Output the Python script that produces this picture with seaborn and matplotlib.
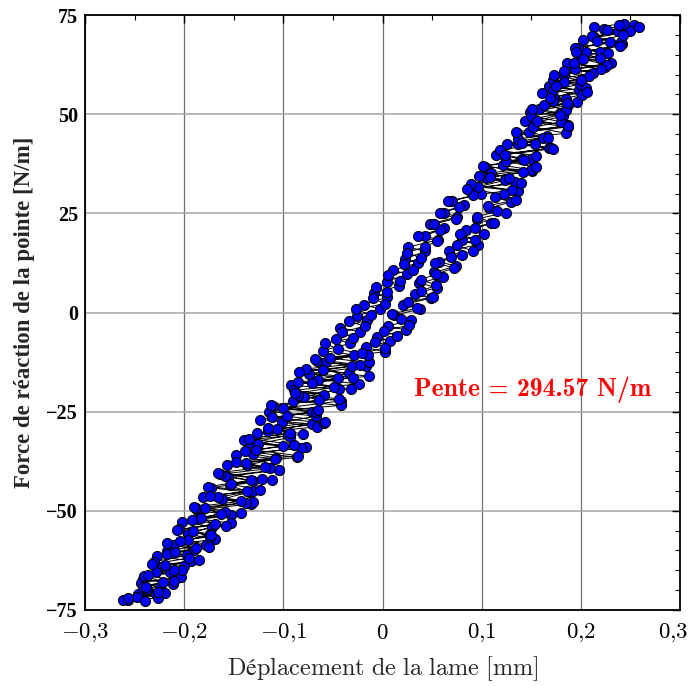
import numpy as np
import pandas as pd
import seaborn as sns
import matplotlib
matplotlib.use("Agg")
import matplotlib.pyplot as plt
import matplotlib.transforms as mtransforms
from matplotlib.ticker import MultipleLocator, FuncFormatter

# ---- data ----
pass1_x = [-0.257, -0.228, -0.238, -0.211, -0.242, -0.214, -0.226, -0.193, -0.227, -0.190,
           -0.210, -0.169, -0.196, -0.172, -0.202, -0.153, -0.187, -0.133, -0.162, -0.135,
           -0.173, -0.131, -0.156, -0.104, -0.157, -0.107, -0.131, -0.077, -0.135, -0.095,
           -0.115, -0.071, -0.124, -0.071, -0.100, -0.042, -0.079, -0.044, -0.092, -0.045,
           -0.074, -0.017, -0.057, -0.029, -0.060, -0.033, -0.047, -0.023, -0.043, -0.016,
           -0.026, -0.003, -0.019, 0.004, -0.009, 0.017, 0.004, 0.025, 0.011, 0.036,
           0.023, 0.043, 0.026, 0.056, 0.043, 0.062, 0.048, 0.075, 0.062, 0.082,
           0.070, 0.099, 0.087, 0.134, 0.104, 0.151, 0.103, 0.141, 0.122, 0.168,
           0.126, 0.166, 0.148, 0.187, 0.144, 0.179, 0.158, 0.196, 0.173, 0.198,
           0.168, 0.201, 0.183, 0.224, 0.186, 0.220, 0.205, 0.241, 0.202, 0.241,
           0.223, 0.254]
pass1_f = [-72.5, -71.0, -69.6, -68.4, -67.2, -65.5, -64.3, -62.6, -61.5, -59.8,
           -58.6, -57.1, -55.9, -54.0, -52.8, -51.1, -49.9, -48.2, -47.1, -45.3,
           -44.2, -42.5, -41.4, -39.6, -38.5, -36.7, -35.6, -33.9, -32.8, -31.0,
           -29.9, -28.1, -27.0, -25.2, -24.1, -22.3, -21.2, -19.4, -18.3, -16.5,
           -15.4, -13.6, -12.5, -10.7, -9.6, -7.8, -6.7, -4.9, -3.8, -2.0,
           -0.9, 0.9, 2.0, 3.8, 4.9, 6.7, 7.8, 9.6, 10.7, 12.5,
           13.6, 15.4, 16.5, 18.3, 19.4, 21.2, 22.3, 24.1, 25.2, 27.0,
           28.1, 29.9, 31.0, 32.8, 33.9, 35.7, 36.8, 38.6, 39.7, 41.5,
           42.6, 44.4, 45.5, 47.3, 48.4, 50.2, 51.3, 53.1, 54.2, 56.0,
           57.1, 58.9, 60.0, 61.8, 62.9, 64.7, 65.8, 67.6, 68.7, 70.5,
           71.6, 72.4]

pass2_x = [0.243, 0.213, 0.237, 0.213, 0.240, 0.197, 0.219, 0.198, 0.230, 0.194,
           0.212, 0.172, 0.199, 0.172, 0.201, 0.172, 0.187, 0.149, 0.182, 0.154,
           0.187, 0.136, 0.162, 0.137, 0.170, 0.114, 0.150, 0.121, 0.150, 0.097,
           0.123, 0.096, 0.137, 0.113, 0.130, 0.107, 0.125, 0.095, 0.109, 0.084,
           0.102, 0.080, 0.096, 0.067, 0.080, 0.057, 0.074, 0.052, 0.061, 0.037,
           0.055, 0.033, 0.049, 0.021, 0.038, 0.012, 0.029, 0.006, 0.024, -0.006,
           0.008, -0.017, 0.002, -0.053, -0.014, -0.077, -0.034, -0.065, -0.024, -0.089,
           -0.059, -0.090, -0.042, -0.114, -0.067, -0.101, -0.066, -0.127, -0.093, -0.126,
           -0.082, -0.148, -0.108, -0.137, -0.104, -0.159, -0.133, -0.176, -0.131, -0.166,
           -0.131, -0.188, -0.159, -0.186, -0.153, -0.205, -0.174, -0.196, -0.178, -0.217,
           -0.197, -0.230, -0.200, -0.228, -0.203, -0.244, -0.224, -0.247, -0.226, -0.262]
pass2_f = [72.8, 71.9, 70.9, 69.4, 68.3, 66.8, 65.7, 64.1, 63.0, 61.4,
           60.3, 58.7, 57.6, 56.0, 54.9, 53.3, 52.2, 50.6, 49.5, 47.9,
           46.8, 45.2, 44.1, 42.5, 41.4, 39.8, 38.7, 37.1, 36.0, 34.4,
           33.3, 31.7, 30.6, 29.0, 27.9, 26.3, 25.2, 23.6, 22.5, 20.9,
           19.8, 18.2, 17.1, 15.5, 14.4, 12.8, 11.7, 10.1, 9.0, 7.4,
           6.3, 4.7, 3.6, 2.0, 0.9, -0.7, -1.8, -3.4, -4.5, -6.1,
           -7.2, -8.8, -9.9, -11.5, -12.6, -14.2, -15.3, -16.9, -18.0, -19.6,
           -20.7, -22.3, -23.4, -25.0, -26.1, -27.7, -28.8, -30.4, -31.5, -33.1,
           -34.2, -35.8, -36.9, -38.5, -39.6, -41.2, -42.3, -43.9, -45.0, -46.6,
           -47.7, -49.3, -50.4, -52.0, -53.1, -54.7, -55.8, -57.4, -58.5, -60.1,
           -61.2, -62.8, -63.9, -65.5, -66.6, -68.2, -69.3, -70.9, -72.0, -72.6]

pass3_x = [-0.248, -0.219, -0.242, -0.221, -0.241, -0.202, -0.219, -0.185, -0.217, -0.188,
           -0.217, -0.174, -0.191, -0.158, -0.192, -0.163, -0.179, -0.138, -0.181, -0.137,
           -0.154, -0.111, -0.164, -0.113, -0.138, -0.086, -0.139, -0.100, -0.140, -0.080,
           -0.106, -0.059, -0.111, -0.067, -0.110, -0.064, -0.085, -0.032, -0.071, -0.030,
           -0.084, -0.031, -0.066, -0.015, -0.045, -0.058, -0.030, -0.041, -0.018, -0.034,
           -0.012, -0.027, 0.002, -0.010, 0.005, -0.007, 0.018, 0.006, 0.031, 0.022,
           0.039, 0.025, 0.043, 0.055, 0.036, 0.058, 0.052, 0.074, 0.058, 0.077,
           0.066, 0.091, 0.131, 0.089, 0.128, 0.109, 0.155, 0.125, 0.155, 0.118,
           0.154, 0.137, 0.185, 0.152, 0.180, 0.150, 0.185, 0.163, 0.185, 0.161,
           0.205, 0.183, 0.208, 0.183, 0.226, 0.202, 0.227, 0.194, 0.229, 0.211,
           0.250, 0.238]
pass3_f = [-71.8, -70.6, -69.1, -67.9, -66.4, -65.0, -63.6, -62.3, -60.8, -59.4,
           -58.0, -56.5, -55.1, -53.7, -52.2, -50.8, -49.4, -47.9, -46.5, -45.1,
           -43.6, -42.2, -40.8, -39.3, -37.9, -36.5, -35.0, -33.6, -32.2, -30.7,
           -29.3, -27.9, -26.4, -25.0, -23.6, -22.1, -20.7, -19.3, -17.8, -16.4,
           -15.0, -13.5, -12.1, -10.7, -9.2, -7.8, -6.4, -4.9, -3.5, -2.1,
           -0.6, 0.8, 2.2, 3.7, 5.1, 6.5, 8.0, 9.4, 10.8, 12.3,
           13.7, 15.1, 16.6, 18.0, 19.4, 20.9, 22.3, 23.7, 25.2, 26.6,
           28.0, 29.5, 30.9, 32.3, 33.8, 35.2, 36.6, 38.1, 39.5, 40.9,
           42.4, 43.8, 45.2, 46.7, 48.1, 49.5, 51.0, 52.4, 53.8, 55.3,
           56.7, 58.1, 59.6, 61.0, 62.4, 63.9, 65.3, 66.7, 68.2, 69.6,
           71.0, 72.5]

pass4_x = [0.259, 0.226, 0.242, 0.216, 0.239, 0.195, 0.219, 0.193, 0.220, 0.173,
           0.200, 0.175, 0.206, 0.169, 0.186, 0.151, 0.179, 0.156, 0.187, 0.135,
           0.167, 0.141, 0.172, 0.123, 0.143, 0.101, 0.142, 0.108, 0.140, 0.085,
           0.122, 0.135, 0.106, 0.115, 0.095, 0.112, 0.093, 0.078, 0.093, 0.075,
           0.091, 0.069, 0.053, 0.072, 0.054, 0.039, 0.054, 0.039, 0.051, 0.026,
           0.035, 0.010, 0.019, 0.027, 0.001, 0.015, -0.008, 0.002, -0.021, -0.068,
           -0.023, -0.060, -0.014, -0.085, -0.049, -0.088, -0.044, -0.112, -0.065, -0.096,
           -0.058, -0.116, -0.093, -0.135, -0.089, -0.128, -0.085, -0.148, -0.119, -0.166,
           -0.122, -0.153, -0.124, -0.174, -0.143, -0.190, -0.143, -0.183, -0.169, -0.207,
           -0.173, -0.204, -0.175, -0.209, -0.195, -0.232, -0.210, -0.236, -0.210, -0.239,
           -0.226, -0.257, -0.240]
pass4_f = [72.0, 71.2, 69.9, 68.5, 67.1, 65.6, 64.2, 62.8, 61.3, 59.9,
           58.5, 57.0, 55.6, 54.2, 52.7, 51.3, 49.9, 48.4, 47.0, 45.6,
           44.1, 42.7, 41.3, 39.8, 38.4, 37.0, 35.5, 34.1, 32.7, 31.2,
           29.8, 28.4, 26.9, 25.5, 24.1, 22.6, 21.2, 19.8, 18.3, 16.9,
           15.5, 14.0, 12.6, 11.2, 9.7, 8.3, 6.9, 5.4, 4.0, 2.6,
           1.1, -0.3, -1.7, -3.2, -4.6, -6.0, -7.5, -8.9, -10.3, -11.8,
           -13.2, -14.6, -16.1, -17.5, -18.9, -20.4, -21.8, -23.2, -24.7, -26.1,
           -27.5, -29.0, -30.4, -31.8, -33.3, -34.7, -36.1, -37.6, -39.0, -40.4,
           -41.9, -43.3, -44.7, -46.2, -47.6, -49.0, -50.5, -51.9, -53.3, -54.8,
           -56.2, -57.6, -59.1, -60.5, -61.9, -63.4, -64.8, -66.2, -67.7, -69.1,
           -70.5, -71.9, -72.7]

x_ticks = [-0.3, -0.2, -0.1, 0.0, 0.1, 0.2, 0.3]
y_ticks = [-75, -50, -25, 0, 25, 50, 75]
slope_text = "Pente = 294.57 N/m"

# ---- build table ----
xs = pass1_x + pass2_x + pass3_x + pass4_x
fs = pass1_f + pass2_f + pass3_f + pass4_f
df = pd.DataFrame({"x": xs, "f": fs})

sns.set_style("white")
plt.rcParams["mathtext.fontset"] = "cm"
plt.rcParams["axes.unicode_minus"] = True

fig = plt.figure(figsize=(6.93, 6.86), dpi=100)
ax = fig.add_axes([0.1227, 0.1108, 0.8586, 0.8673])

sns.lineplot(data=df, x="x", y="f", sort=False, estimator=None,
             color="black", lw=0.7, marker="o", markersize=7.2,
             markerfacecolor="#0000ff", markeredgecolor="black",
             markeredgewidth=0.8, ax=ax, legend=False, zorder=3)

ax.set_xlim(-0.3, 0.3)
ax.set_ylim(-75, 75)
ax.set_xticks(x_ticks)
ax.set_yticks(y_ticks)
ax.xaxis.set_minor_locator(MultipleLocator(0.05))
ax.yaxis.set_minor_locator(MultipleLocator(5))

def xfmt(v, pos):
    v = round(v, 1)
    if abs(v) < 1e-9:
        return r"$0$"
    s = ("%g" % v).replace(".", "{,}")
    return "$" + s + "$"

ax.xaxis.set_major_formatter(FuncFormatter(xfmt))

ax.tick_params(which="both", direction="in", top=True, right=True, colors="black")
ax.tick_params(which="major", length=6, width=1.0)
ax.tick_params(axis="x", which="major", pad=8, labelsize=16.5)
ax.tick_params(axis="y", which="major", pad=5)
ax.tick_params(which="minor", length=3.5, width=0.8)

ax.set_yticklabels([str(v).replace("-", "\u2212") for v in y_ticks],
                   fontfamily="Liberation Serif", fontweight="bold", fontsize=14.5)

# keep the last x label inside the canvas (applied after tick_params)
xlabels = ax.get_xticklabels()
shift = mtransforms.ScaledTranslation(-7 / 100, 0, fig.dpi_scale_trans)
xlabels[-1].set_transform(xlabels[-1].get_transform() + shift)

ax.xaxis.grid(True, which="major", color="#707070", lw=0.9)
ax.yaxis.grid(True, which="major", color="#a5a5a5", lw=1.1)
ax.set_axisbelow(True)
for sp in ax.spines.values():
    sp.set_color("black")
    sp.set_linewidth(1.3)
    sp.set_zorder(5)

ax.set_xlabel(r"$\mathrm{Déplacement\ de\ la\ lame\ [mm]}$", fontsize=17.5, labelpad=7)
ax.set_ylabel("Force de réaction de la pointe [N/m]", fontfamily="Liberation Serif",
              fontweight="bold", fontsize=16.5, labelpad=8)

ax.text(0.032, -19.5, slope_text, color="#ff0000", fontsize=18.5, va="center", ha="left",
        fontfamily="cmb10", zorder=6)

fig.savefig("out.png", dpi=100)
